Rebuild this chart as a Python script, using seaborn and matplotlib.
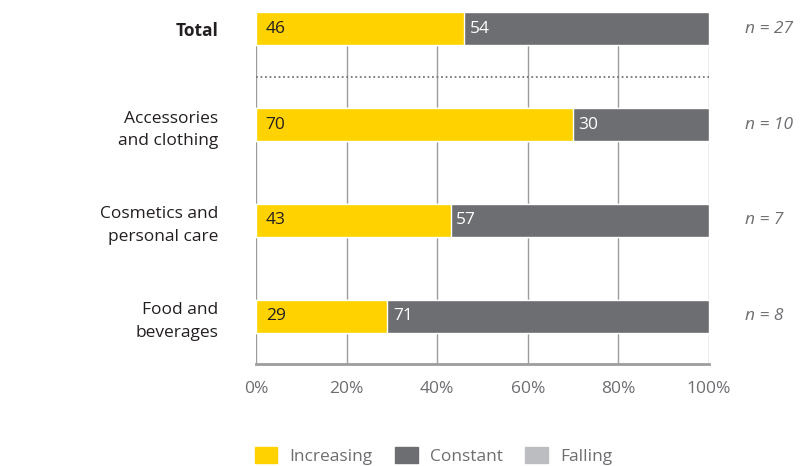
import matplotlib
matplotlib.use("Agg")
import matplotlib.pyplot as plt
import matplotlib.patches as mpatches
import seaborn as sns
import pandas as pd

categories = ["Total", "Accessories\nand clothing", "Cosmetics and\npersonal care", "Food and\nbeverages"]
increasing = [46, 70, 43, 29]
constant = [54, 30, 57, 71]
falling = [0, 0, 0, 0]
sample_sizes = ["n = 27", "n = 10", "n = 7", "n = 8"]
x_ticks = [0, 20, 40, 60, 80, 100]
x_tick_labels = ["0%", "20%", "40%", "60%", "80%", "100%"]

YELLOW = "#FFD200"
DARK = "#6D6E71"
LIGHT = "#BCBDC0"
GRID = "#9D9D9D"
TEXT = "#231F20"

sns.set_theme(style="white")
plt.rcParams["font.family"] = ["Open Sans", "DejaVu Sans"]
FS = 12.5

df = pd.DataFrame({
    "category": categories,
    "increasing": increasing,
    "constant": constant,
    "falling": falling,
})
df["upto_constant"] = df["increasing"] + df["constant"]
df["upto_falling"] = df["upto_constant"] + df["falling"]

fig = plt.figure(figsize=(8.03, 4.66), dpi=100)
ax = fig.add_axes([256 / 803, 1 - 364 / 466, (709 - 256) / 803, (364 - 12) / 466])

bar_w = 0.344
sns.barplot(data=df, y="category", x="upto_falling", color=LIGHT, width=bar_w,
            orient="h", ax=ax, saturation=1, zorder=2)
sns.barplot(data=df, y="category", x="upto_constant", color=DARK, width=bar_w,
            orient="h", ax=ax, saturation=1, zorder=2)
sns.barplot(data=df, y="category", x="increasing", color=YELLOW, width=bar_w,
            orient="h", ax=ax, saturation=1, zorder=3)

ax.set_xlim(0, 100)
ax.set_ylim(3.495, -0.172)
ax.set_xlabel("")
ax.set_ylabel("")

# vertical grid
ax.set_xticks(x_ticks)
ax.set_xticklabels(x_tick_labels, color="#6D6E71", fontsize=FS)
for xv in x_ticks:
    ax.axvline(xv, color=GRID, lw=1.0, zorder=1)
ax.tick_params(axis="x", length=0, pad=12)
ax.tick_params(axis="y", length=0, pad=27)

for s in ["top", "right", "left"]:
    ax.spines[s].set_visible(False)
ax.spines["bottom"].set_color(GRID)
ax.spines["bottom"].set_linewidth(2)

# category labels, the overall row in bold
ax.set_yticks(range(len(categories)))
ax.set_yticklabels(categories, fontsize=FS, color=TEXT, linespacing=1.55)
for k, lab in enumerate(ax.get_yticklabels()):
    lab.set_fontweight("bold" if k == 0 else "normal")

# separator between total and segments
ax.axhline(0.5, color="#777777", lw=1.3, ls=(0, (1, 1.5)), zorder=2)

# value labels and sample sizes
for i, (inc, con) in enumerate(zip(increasing, constant)):
    ax.annotate(f"{inc}", xy=(0, i), xytext=(7, 0), textcoords="offset points",
                va="center", ha="left", fontsize=FS, color=TEXT, zorder=5)
    ax.annotate(f"{con}", xy=(inc, i), xytext=(4, 0), textcoords="offset points",
                va="center", ha="left", fontsize=FS, color="white", zorder=5)
    ax.annotate(sample_sizes[i], xy=(1, i), xycoords=("axes fraction", "data"),
                xytext=(26, 0), textcoords="offset points", va="center", ha="left",
                fontsize=FS, color="#6D6E71", style="italic")

handles = [
    mpatches.Patch(color=YELLOW, label="Increasing"),
    mpatches.Patch(color=DARK, label="Constant"),
    mpatches.Patch(color=LIGHT, label="Falling"),
]
fig.legend(handles=handles, loc="center left", bbox_to_anchor=(239 / 803, 1 - 456 / 466),
           ncol=3, frameon=False, fontsize=FS, handlelength=1.3, handleheight=1.0,
           columnspacing=1.3, handletextpad=0.7, labelcolor="#6D6E71")

fig.savefig("out.png", dpi=100)
